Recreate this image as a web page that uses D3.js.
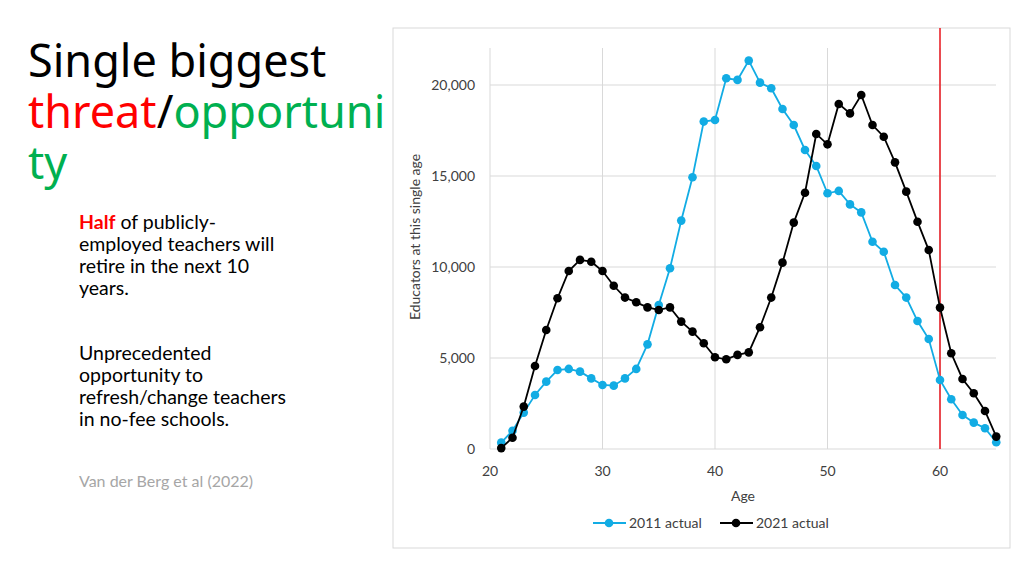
<!DOCTYPE html><html><head><meta charset="utf-8"><script src="https://cdn.jsdelivr.net/npm/d3@7"></script>
<style>body{margin:0;background:#fff;font-family:Lato,"Open Sans",sans-serif}</style></head><body><svg id="c" width="1024" height="575"></svg>
<script>
const ages = d3.range(21, 66);
const s2011 = [350,1000,2000,2970,3700,4340,4400,4250,3880,3520,3480,3880,4400,5750,7910,9930,12550,14930,17990,18080,20370,20280,21340,20130,19820,18680,17800,16430,15550,14050,14180,13440,13000,11390,10840,9010,8320,7030,6040,3790,2730,1870,1450,1140,370];
const s2021 = [50,620,2330,4560,6540,8280,9780,10390,10290,9780,8970,8320,8060,7780,7640,7780,7000,6450,5810,5040,4930,5170,5310,6690,8320,10240,12440,14080,17310,16740,18960,18440,19450,17800,17160,15750,14140,12490,10930,7770,5260,3850,3060,2090,680];
const xTicks = [20,30,40,50,60];
const yTicks = [0,5000,10000,15000,20000];
const seriesNames = ["2011 actual","2021 actual"];
const colors = ["#12ace4","#000000"];

const svg = d3.select("#c");
const tf = "Noto Sans, sans-serif", ts = 45;
svg.append("text").attr("x",28).attr("y",77).attr("font-size",ts).attr("font-family",tf).text("Single biggest");
const t2 = svg.append("text").attr("x",28).attr("y",128).attr("font-size",ts).attr("font-family",tf);
t2.append("tspan").attr("fill","#ff0000").text("threat");
t2.append("tspan").attr("fill","#000").text("/");
t2.append("tspan").attr("fill","#00b050").text("opportuni");
svg.append("text").attr("x",28).attr("y",179).attr("font-size",ts).attr("font-family",tf).attr("fill","#00b050").text("ty");
const body = [[["Half","#ff0000",700],[" of publicly-","#000",400]],[["employed teachers will","#000",400]],[["retire in the next 10","#000",400]],[["years.","#000",400]]];
body.forEach((l,i)=>{const tx=svg.append("text").attr("x",79).attr("y",229+i*22).attr("font-size",19.5);l.forEach(p=>tx.append("tspan").attr("fill",p[1]).attr("font-weight",p[2]).text(p[0]));});
["Unprecedented","opportunity to","refresh/change teachers","in no-fee schools."].forEach((s,i)=>svg.append("text").attr("x",79).attr("y",360+i*22).attr("font-size",19.5).text(s));
svg.append("text").attr("x",79).attr("y",487).attr("font-size",16).attr("fill","#a6a6a6").text("Van der Berg et al (2022)");

svg.append("rect").attr("x",393).attr("y",28).attr("width",617).attr("height",520).attr("fill","#fff").attr("stroke","#d9d9d9");
const x = d3.scaleLinear().domain([20,65]).range([490,996.25]);
const y = d3.scaleLinear().domain([0,22000]).range([449,48.6]);
const g = svg.append("g");
g.selectAll(".hg").data(yTicks.slice(1)).join("line").attr("x1",490).attr("x2",996).attr("y1",d=>y(d)).attr("y2",d=>y(d)).attr("stroke","#d9d9d9");
g.selectAll(".vg").data(xTicks).join("line").attr("x1",d=>x(d)).attr("x2",d=>x(d)).attr("y1",48).attr("y2",449).attr("stroke","#d9d9d9");
g.append("line").attr("x1",490).attr("x2",996).attr("y1",449).attr("y2",449).attr("stroke","#d9d9d9");
g.selectAll(".yl").data(yTicks).join("text").attr("x",475).attr("y",d=>y(d)+5).attr("text-anchor","end").attr("font-size",14).attr("fill","#404040").text(d3.format(","));
g.selectAll(".xl").data(xTicks).join("text").attr("x",d=>x(d)).attr("y",476).attr("text-anchor","middle").attr("font-size",14).attr("fill","#404040").text(d=>d);
svg.append("text").attr("x",743).attr("y",501).attr("text-anchor","middle").attr("font-size",14).attr("fill","#404040").text("Age");
svg.append("text").attr("transform","translate(420,237) rotate(-90)").attr("text-anchor","middle").attr("font-size",14).attr("fill","#404040").text("Educators at this single age");
svg.append("line").attr("x1",x(60)).attr("x2",x(60)).attr("y1",28).attr("y2",449).attr("stroke","#e8141c").attr("stroke-width",1.5);
[s2011,s2021].forEach((s,k)=>{
  const data = ages.map((a,i)=>[a,s[i]]);
  svg.append("path").datum(data).attr("fill","none").attr("stroke",colors[k]).attr("stroke-width",1.8).attr("d",d3.line().x(d=>x(d[0])).y(d=>y(d[1])));
  svg.append("g").selectAll("circle").data(data).join("circle").attr("cx",d=>x(d[0])).attr("cy",d=>y(d[1])).attr("r",4.3).attr("fill",colors[k]);
});
const lx=[593,720];
seriesNames.forEach((n,k)=>{
  svg.append("line").attr("x1",lx[k]).attr("x2",lx[k]+33).attr("y1",523).attr("y2",523).attr("stroke",colors[k]).attr("stroke-width",1.8);
  svg.append("circle").attr("cx",lx[k]+16).attr("cy",523).attr("r",4.3).attr("fill",colors[k]);
  svg.append("text").attr("x",lx[k]+36).attr("y",528).attr("font-size",14).attr("fill","#404040").text(n);
});
</script></body></html>
